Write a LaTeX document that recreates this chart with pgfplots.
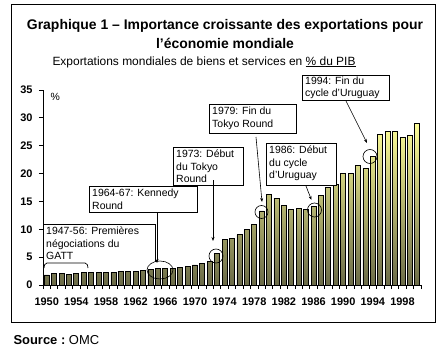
\documentclass[border=0pt]{standalone}
\usepackage{fontspec}
\setmainfont{Liberation Sans}
\usepackage{pgfplots}
\pgfplotsset{compat=1.18}
\usetikzlibrary{arrows.meta}
\definecolor{bartop}{HTML}{FFFF99}
\definecolor{barbot}{HTML}{6B6B48}
\newcommand\annot{\fontsize{10.5}{12.5}\selectfont}
\begin{document}
\begin{tikzpicture}
\path[use as bounding box] (0bp,0bp) rectangle (448bp,-357bp);
\begin{axis}[
  at={(43bp,-285bp)}, anchor=south west,
  scale only axis, width=378bp, height=195bp,
  xmin=1949.5, xmax=2000.5, ymin=0, ymax=35,
  axis x line*=bottom, axis y line*=left,
  axis line style={line width=0.8bp, -},
  xtick={1949.5,1950.5,...,2000.5}, xticklabels={},
  extra x ticks={1950,1954,1958,1962,1966,1970,1974,1978,1982,1986,1990,1994,1998},
  extra x tick labels={1950,1954,1958,1962,1966,1970,1974,1978,1982,1986,1990,1994,1998},
  extra x tick style={major tick length=0pt},
  ytick={0,5,...,35},
  tick pos=left,
  tick align=outside, major tick length=4bp,
  tick style={line width=0.8bp, black},
  ticklabel style={font=\bfseries\fontsize{11}{13}\selectfont},
  xticklabel style={yshift=-9bp},
  yticklabel style={xshift=-3bp},
  /pgf/number format/1000 sep={},
  /pgf/number format/assume math mode=true,
  clip=false,
]
\addplot[ybar, bar width=5bp, draw=black, line width=0.8bp, top color=bartop, bottom color=barbot] coordinates {
(1950,1.8) (1951,2.1) (1952,2.1) (1953,1.9) (1954,2.1) (1955,2.2) (1956,2.3) (1957,2.3) (1958,2.3) (1959,2.3)
(1960,2.5) (1961,2.5) (1962,2.5) (1963,2.6) (1964,2.8) (1965,2.9) (1966,3.0) (1967,3.0) (1968,3.2) (1969,3.3)
(1970,3.6) (1971,3.8) (1972,4.3) (1973,5.6) (1974,8.1) (1975,8.4) (1976,9.0) (1977,9.9) (1978,10.9) (1979,13.3)
(1980,16.2) (1981,15.6) (1982,14.3) (1983,13.6) (1984,13.8) (1985,13.5) (1986,14.1) (1987,16.1) (1988,17.5) (1989,18.0)
(1990,20.1) (1991,20.1) (1992,21.4) (1993,20.9) (1994,23.0) (1995,27.1) (1996,27.6) (1997,27.6) (1998,26.5) (1999,26.8)
(2000,29.0)
};
\end{axis}
\begin{scope}[x=1bp,y=-1bp]
  % outer frame
  \draw[line width=0.9bp] (11,4) rectangle (435,322);
  % titles
  \node[font=\bfseries\fontsize{14}{19}\selectfont, align=center] at (225,34) {Graphique 1 – Importance croissante des exportations pour\\l’économie mondiale};
  \node[font=\fontsize{12}{14}\selectfont, anchor=west] at (49,62) {Exportations mondiales de biens et services en \underline{\% du PIB}};
  \node[font=\annot, anchor=west] at (47,97) {\%};
  % GATT box
  \draw[fill=white, line width=0.7bp] (43,262) -- (43,224) -- (155,224) -- (155,262);
  \node[anchor=north west, inner sep=0pt, align=left, font=\annot] at (46,227) {1947-56: Premières\\négociations du\\GATT};
  \draw[line width=0.7bp] (44,268) to[out=90,in=180] (47,263) -- (85,263) to[out=0,in=90] (88,268);
  % Kennedy
  \draw[fill=white, line width=0.7bp] (89,186) rectangle (197,212);
  \node[anchor=north west, inner sep=0pt, align=left, font=\annot] at (92,189) {1964-67: Kennedy\\Round};
  \draw[line width=0.6bp, -{Stealth[length=4bp,width=3bp]}] (157,212) -- (157,263);
  \draw[line width=0.6bp] (160,270) ellipse [x radius=13, y radius=9];
  % 1973
  \draw[fill=white, line width=0.7bp] (173,147) rectangle (243,185);
  \node[anchor=north west, inner sep=0pt, align=left, font=\annot] at (176,150) {1973: Début\\du Tokyo\\Round};
  \draw[line width=0.6bp, -{Stealth[length=4bp,width=3bp]}] (213,180) -- (213,241);
  \draw[line width=0.6bp] (216,256) circle [radius=7];
  % 1979
  \draw[fill=white, line width=0.7bp] (209,104) rectangle (296,133);
  \node[anchor=north west, inner sep=0pt, align=left, font=\annot] at (212,107) {1979: Fin du\\Tokyo Round};
  \draw[line width=0.6bp, -{Stealth[length=4bp,width=3bp]}] (256,137) -- (262,202);
  \draw[line width=0.6bp] (261.5,212) circle [radius=6.5];
  % 1986
  \draw[fill=white, line width=0.7bp] (266,143) rectangle (336,185);
  \node[anchor=north west, inner sep=0pt, align=left, font=\annot] at (269,146) {1986: Début\\du cycle\\d'Uruguay};
  \draw[line width=0.6bp, -{Stealth[length=4bp,width=3bp]}] (306,186) -- (311.5,200);
  \draw[line width=0.6bp] (314.5,210) circle [radius=7];
  % 1994
  \draw[fill=white, line width=0.7bp] (302,75) rectangle (389,100);
  \node[anchor=north west, inner sep=0pt, align=left, font=\fontsize{10.5}{12}\selectfont] at (305,77) {1994: Fin du\\cycle d'Uruguay};
  \draw[line width=0.6bp, -{Stealth[length=4bp,width=3bp]}] (346,101) -- (367,143);
  \draw[line width=0.6bp] (370,156.5) circle [radius=7];
  % source
  \node[anchor=west, font=\fontsize{13}{15}\selectfont] at (10,340) {\bfseries Source :\normalfont\ OMC};
\end{scope}
\end{tikzpicture}
\end{document}
